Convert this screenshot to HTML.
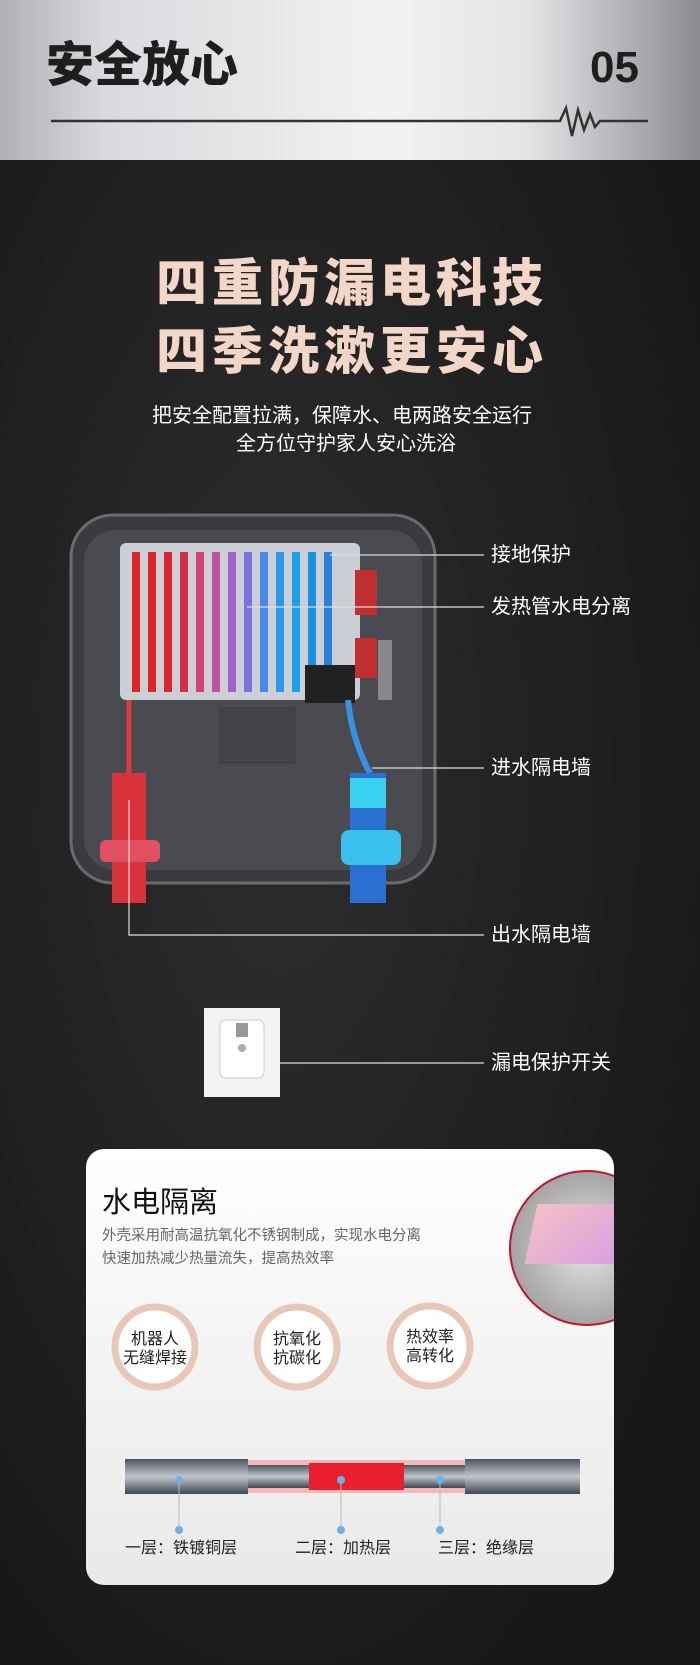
<!DOCTYPE html>
<html><head><meta charset="utf-8"><style>
body{margin:0;width:700px;height:1665px;overflow:hidden;position:relative;font-family:"Liberation Sans","Noto Sans CJK SC",sans-serif;background:#1c1c1c}
#top{position:absolute;left:0;top:0;width:700px;height:160px;background:linear-gradient(90deg,#aeb0b4 0%,#d8dadd 15%,#f1f2f3 55%,#e4e5e7 75%,#8a8c90 100%);}
#main{position:absolute;left:0;top:160px;width:700px;height:1505px;background:radial-gradient(ellipse at 40% 40%,#2e2e2e,#181818 80%);}
.t{position:absolute;white-space:nowrap;line-height:1}
</style></head><body>
<div id="top">
<div class="t" style="left:46px;top:42px;font-size:48px;font-weight:900;color:#1e1e1e">安全放心</div>
<div class="t" style="left:590px;top:46px;font-size:44px;font-weight:bold;color:#1e1e1e">05</div>
<svg width="700" height="160" style="position:absolute;left:0;top:0"><polyline points="51,121 560,121 566,108 572,136 578,110 584,130 590,114 595,127 600,121 648,121" fill="none" stroke="#333" stroke-width="2.5"/></svg>
</div>
<div id="main"></div>
<div class="t" style="left:156px;top:258px;font-size:51px;font-weight:900;color:#f2d6c8;letter-spacing:5px">四重防漏电科技</div>
<div class="t" style="left:156px;top:326px;font-size:51px;font-weight:900;color:#f2d6c8;letter-spacing:5px">四季洗漱更安心</div>
<div class="t" style="left:152px;top:406px;font-size:20px;color:#fff">把安全配置拉满，保障水、电两路安全运行</div>
<div class="t" style="left:236px;top:434px;font-size:20px;color:#fff">全方位守护家人安心洗浴</div>
<svg width="700" height="1150" style="position:absolute;left:0;top:0">
<rect x="71" y="515" width="364" height="368" rx="42" fill="#3a3b3f" stroke="#6a6b70" stroke-width="3"/>
<rect x="84" y="530" width="338" height="340" rx="32" fill="#4a4b50"/>
<rect x="220" y="708" width="75" height="55" fill="#434448" stroke="#3a3a3e"/>
<rect x="120" y="543" width="240" height="157" rx="6" fill="#d9dde2" opacity=".9"/>
<g stroke-width="8" fill="none">
<path d="M136 552 v140" stroke="#d8262b"/><path d="M152 552 v140" stroke="#d8262b"/><path d="M168 552 v140" stroke="#d8282f"/><path d="M184 552 v140" stroke="#d5304a"/><path d="M200 552 v140" stroke="#d04070"/><path d="M216 552 v140" stroke="#c050a0"/><path d="M232 552 v140" stroke="#a060c8"/><path d="M248 552 v140" stroke="#7a70e0"/><path d="M264 552 v140" stroke="#4a86e8"/><path d="M280 552 v140" stroke="#2a98e8"/><path d="M296 552 v140" stroke="#1aa0e8"/><path d="M312 552 v140" stroke="#1a90e0"/><path d="M328 552 v140" stroke="#2a80d8"/>
</g>
<rect x="355" y="570" width="22" height="45" fill="#c03030"/>
<rect x="355" y="638" width="22" height="40" fill="#c03030"/>
<rect x="378" y="640" width="14" height="60" fill="#888"/>
<rect x="305" y="665" width="50" height="38" fill="#222"/>
<path d="M129 700 V850" stroke="#d83c3c" stroke-width="5"/>
<rect x="112" y="773" width="34" height="130" fill="#d8323a"/>
<rect x="100" y="840" width="60" height="22" rx="6" fill="#e05060"/>
<path d="M348 700 Q352 740 370 773" stroke="#3a90e0" stroke-width="6" fill="none"/>
<rect x="350" y="773" width="36" height="130" fill="#2a70d0"/>
<rect x="350" y="778" width="36" height="30" fill="#3ad0f0"/>
<rect x="341" y="830" width="60" height="35" rx="8" fill="#3ac0ec"/>
<g stroke="#ddd" stroke-width="1.2" fill="none">
<path d="M330 555 H484"/><path d="M247 607 H484"/><path d="M372 768 H484"/><path d="M129 800 V935 H484"/><path d="M280 1063 H484"/>
</g>
<rect x="204" y="1008" width="76" height="89" fill="#f2f2f2"/>
<rect x="220" y="1020" width="44" height="58" rx="6" fill="#fff" stroke="#ccc"/>
<rect x="236" y="1023" width="12" height="14" fill="#999"/>
<circle cx="242" cy="1048" r="4" fill="#aaa"/>
</svg>
<div class="t" style="left:491px;top:545px;font-size:20px;color:#fff">接地保护</div>
<div class="t" style="left:491px;top:597px;font-size:20px;color:#fff">发热管水电分离</div>
<div class="t" style="left:491px;top:758px;font-size:20px;color:#fff">进水隔电墙</div>
<div class="t" style="left:491px;top:925px;font-size:20px;color:#fff">出水隔电墙</div>
<div class="t" style="left:491px;top:1053px;font-size:20px;color:#fff">漏电保护开关</div>
<div style="position:absolute;left:86px;top:1149px;width:528px;height:436px;border-radius:18px;background:linear-gradient(180deg,#fff,#f3f3f4 50%,#e9e9ea);overflow:hidden">
<div style="position:absolute;left:423px;top:21px;width:156px;height:156px;box-sizing:border-box;border-radius:50%;border:2px solid #c8102e;background:radial-gradient(#e4e4e4,#8a8a8a)"></div>
<div style="position:absolute;left:445px;top:55px;width:90px;height:60px;background:linear-gradient(135deg,#f3c0c6,#d8a0e0);transform:skew(-12deg)"></div>
</div>
<div class="t" style="left:102px;top:1189px;font-size:29px;color:#111">水电隔离</div>
<div class="t" style="left:102px;top:1229px;font-size:14.5px;color:#666">外壳采用耐高温抗氧化不锈钢制成，实现水电分离</div>
<div class="t" style="left:102px;top:1252px;font-size:14.5px;color:#666">快速加热减少热量流失，提高热效率</div>
<svg width="700" height="1665" style="position:absolute;left:0;top:0">
<defs><linearGradient id="g" x1="0" y1="0" x2="0" y2="1"><stop offset="0" stop-color="#4d5560"/><stop offset=".5" stop-color="#c0c6cc"/><stop offset="1" stop-color="#3f4650"/></linearGradient></defs>
<g fill="#fff" stroke="#e6c7b8" stroke-width="7"><circle cx="155" cy="1347" r="40"/><circle cx="297" cy="1347" r="40"/><circle cx="430" cy="1346" r="40"/></g>
<rect x="125" y="1459" width="123" height="35" fill="url(#g)"/>
<rect x="248" y="1460" width="217" height="33" fill="#f7b8b8"/>
<rect x="248" y="1465" width="217" height="23" fill="url(#g)"/>
<rect x="309" y="1463" width="95" height="27" fill="#e8202e"/>
<rect x="465" y="1459" width="115" height="35" fill="url(#g)"/>
<g stroke="#bbb"><path d="M179 1480V1530"/><path d="M341 1480V1530"/><path d="M440 1480V1530"/></g>
<g fill="#6fb0e6"><circle cx="179" cy="1480" r="4"/><circle cx="179" cy="1530" r="4"/><circle cx="341" cy="1480" r="4"/><circle cx="341" cy="1530" r="4"/><circle cx="440" cy="1480" r="4"/><circle cx="440" cy="1530" r="4"/></g>
</svg>
<div class="t" style="left:123px;top:1330px;width:64px;font-size:16px;color:#222;text-align:center;line-height:19px">机器人<br>无缝焊接</div>
<div class="t" style="left:265px;top:1330px;width:64px;font-size:16px;color:#222;text-align:center;line-height:19px">抗氧化<br>抗碳化</div>
<div class="t" style="left:398px;top:1328px;width:64px;font-size:16px;color:#222;text-align:center;line-height:19px">热效率<br>高转化</div>
<div class="t" style="left:125px;top:1541px;font-size:16px;color:#222">一层：铁镀铜层</div>
<div class="t" style="left:295px;top:1541px;font-size:16px;color:#222">二层：加热层</div>
<div class="t" style="left:438px;top:1541px;font-size:16px;color:#222">三层：绝缘层</div>
</body></html>
